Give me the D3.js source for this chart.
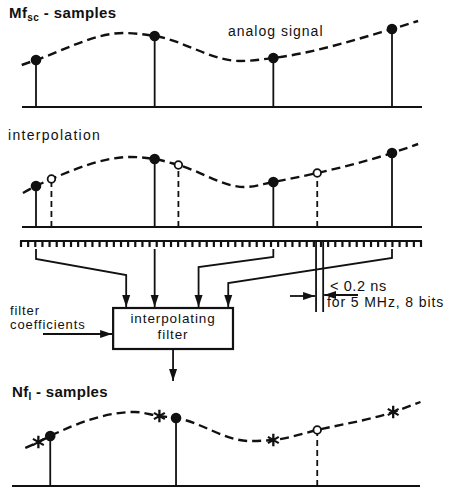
<!DOCTYPE html>
<html>
<head>
<meta charset="utf-8">
<script src="https://cdn.jsdelivr.net/npm/d3@7"></script>
<style>
    body { margin: 0; background: #fff; }
    text { font-family: "Liberation Sans", Arial, sans-serif; fill: #111; }
</style>
</head>
<body>
<svg id="chart" width="455" height="490"></svg>
<script>
// time is measured in Mf_sc sample periods, amplitude in units of 100 px

// Mf_sc samples (top panel)
var mfTimes = [0, 1, 2, 3],
    mfValues = [0.47, 0.71, 0.49, 0.78],
    signalTop = [[-0.12, 0.42], [0, 0.47], [0.74, 0.74], [1, 0.71], [1.72, 0.46], [2, 0.49], [3, 0.78], [3.22, 0.86]];

// interpolation panel
var interpSolidTimes = [0, 1, 2, 3],
    interpSolidValues = [0.41, 0.68, 0.45, 0.74],
    interpOpenTimes = [0.13, 1.2, 2.37],
    interpOpenValues = [0.48, 0.62, 0.54],
    signalMid = [[-0.11, 0.34], [0, 0.41], [0.13, 0.48], [0.8, 0.70], [1, 0.68], [1.2, 0.62], [1.76, 0.40], [2, 0.45], [2.37, 0.54], [3, 0.74], [3.22, 0.83]];

// Nf_I samples (bottom panel)
var nfSolidTimes = [0.12, 1.18],
    nfSolidValues = [0.50, 0.68],
    nfOpenTimes = [2.37],
    nfOpenValues = [0.56],
    starTimes = [0.02, 1.04, 2.0, 3.01],
    starValues = [0.44, 0.70, 0.46, 0.74],
    signalBot = [[-0.09, 0.38], [0.02, 0.44], [0.12, 0.50], [0.83, 0.74], [1.04, 0.70], [1.18, 0.68], [1.8, 0.45], [2.0, 0.46], [2.37, 0.56], [3.01, 0.74], [3.24, 0.84]];

// filter taps: sources on the clock comb, targets on the filter box
var tapSources = [0, 1, 2, 3],
    tapTargets = [0.76, 1, 1.37, 1.62],
    tapBendY = [259, 253, 257, 258],
    tapKneeY = [275, 253, 267, 283];

var combCount = 57;

var svg = d3.select('#chart');

var x = d3.scaleLinear().domain([0, 3]).range([36, 392]);

var defs = svg.append('defs');
defs.append('marker')
    .attr('id', 'arrow')
    .attr('viewBox', '0 -5 12 10')
    .attr('refX', 12).attr('refY', 0)
    .attr('markerWidth', 12).attr('markerHeight', 10)
    .attr('markerUnits', 'userSpaceOnUse')
    .attr('orient', 'auto')
    .append('path').attr('d', 'M0,-4L12,0L0,4Z').attr('fill', '#111');

var drawPanel = function drawPanel(cfg) {
    var y = d3.scaleLinear().domain([0, 1]).range([cfg.base, cfg.base - 100]);
    var g = svg.append('g');

    g.append('line')
        .attr('x1', cfg.x0).attr('x2', cfg.x1)
        .attr('y1', cfg.base).attr('y2', cfg.base)
        .attr('stroke', '#111').attr('stroke-width', 2.2);

    var line = d3.line()
        .x(function (d) { return x(d[0]); })
        .y(function (d) { return y(d[1]); })
        .curve(d3.curveMonotoneX);

    g.append('path')
        .attr('d', line(cfg.signal))
        .attr('fill', 'none')
        .attr('stroke', '#111')
        .attr('stroke-width', 2.4)
        .attr('stroke-dasharray', '9,5');

    var stems = function (times, values, dashed, open) {
        var data = d3.zip(times, values);
        g.selectAll(null).data(data).enter().append('line')
            .attr('x1', function (d) { return x(d[0]); })
            .attr('x2', function (d) { return x(d[0]); })
            .attr('y1', cfg.base)
            .attr('y2', function (d) { return y(d[1]); })
            .attr('stroke', '#111').attr('stroke-width', 1.8)
            .attr('stroke-dasharray', dashed ? '6,4' : null);
        g.selectAll(null).data(data).enter().append('circle')
            .attr('cx', function (d) { return x(d[0]); })
            .attr('cy', function (d) { return y(d[1]); })
            .attr('r', open ? 3.8 : 4.4)
            .attr('fill', open ? '#fff' : '#111')
            .attr('stroke', '#111').attr('stroke-width', 1.8);
    };

    if (cfg.solid) stems(cfg.solid[0], cfg.solid[1], false, false);
    if (cfg.open) stems(cfg.open[0], cfg.open[1], true, true);

    if (cfg.stars) {
        g.selectAll(null).data(d3.zip(cfg.stars[0], cfg.stars[1])).enter().append('path')
            .attr('transform', function (d) { return 'translate(' + x(d[0]) + ',' + y(d[1]) + ')'; })
            .attr('d', d3.symbol().type(d3.symbolAsterisk).size(110))
            .attr('fill', 'none').attr('stroke', '#111').attr('stroke-width', 2.3);
    }
    return g;
};

drawPanel({base: 107, x0: 22, x1: 422, signal: signalTop, solid: [mfTimes, mfValues]});
drawPanel({base: 227, x0: 22, x1: 422, signal: signalMid,
    solid: [interpSolidTimes, interpSolidValues], open: [interpOpenTimes, interpOpenValues]});
drawPanel({base: 486, x0: 12, x1: 420, signal: signalBot,
    solid: [nfSolidTimes, nfSolidValues], open: [nfOpenTimes, nfOpenValues], stars: [starTimes, starValues]});

// titles
var title = svg.append('text').attr('x', 9).attr('y', 18)
    .attr('font-size', 15).attr('font-weight', 'bold').attr('letter-spacing', 0.4);
title.append('tspan').text('Mf');
title.append('tspan').attr('font-size', 10).attr('dy', 3).text('sc');
title.append('tspan').attr('dy', -3).text(' - samples');

svg.append('text').attr('x', 228).attr('y', 36)
    .attr('font-size', 14).attr('letter-spacing', 1).text('analog signal');

svg.append('text').attr('x', 8).attr('y', 140)
    .attr('font-size', 14).attr('letter-spacing', 1.3).text('interpolation');

var title3 = svg.append('text').attr('x', 12).attr('y', 397)
    .attr('font-size', 15).attr('font-weight', 'bold').attr('letter-spacing', 0.3);
title3.append('tspan').text('Nf');
title3.append('tspan').attr('font-size', 10).attr('dy', 3).text('I');
title3.append('tspan').attr('dy', -3).text(' - samples');

// clock comb
var combX = d3.scaleLinear().domain([0, combCount - 1]).range([21, 421]);
svg.append('line').attr('x1', 20).attr('x2', 422).attr('y1', 241).attr('y2', 241)
    .attr('stroke', '#111').attr('stroke-width', 2.2);
svg.selectAll(null).data(d3.range(combCount)).enter().append('line')
    .attr('x1', combX).attr('x2', combX)
    .attr('y1', 241).attr('y2', 247)
    .attr('stroke', '#111').attr('stroke-width', 2.2);

// taps into the filter
var filterBox = {x0: x(0.65), x1: x(1.66), y0: 308, y1: 349};
svg.selectAll(null).data(d3.range(tapSources.length)).enter().append('path')
    .attr('d', function (i) {
        return d3.line()([
            [x(tapSources[i]), 249],
            [x(tapSources[i]), tapBendY[i]],
            [x(tapTargets[i]), tapKneeY[i]],
            [x(tapTargets[i]), filterBox.y0 - 1]
        ]);
    })
    .attr('fill', 'none').attr('stroke', '#111').attr('stroke-width', 1.8)
    .attr('marker-end', 'url(#arrow)');

// filter box
svg.append('rect')
    .attr('x', filterBox.x0).attr('y', filterBox.y0)
    .attr('width', filterBox.x1 - filterBox.x0).attr('height', filterBox.y1 - filterBox.y0)
    .attr('fill', '#fff').attr('stroke', '#111').attr('stroke-width', 2.2);
var boxCx = (filterBox.x0 + filterBox.x1) / 2;
svg.append('text').attr('x', boxCx).attr('y', 323).attr('text-anchor', 'middle')
    .attr('font-size', 13.5).attr('letter-spacing', 0.9).text('interpolating');
svg.append('text').attr('x', boxCx).attr('y', 339).attr('text-anchor', 'middle')
    .attr('font-size', 13.5).attr('letter-spacing', 0.9).text('filter');

svg.append('text').attr('x', 10).attr('y', 315)
    .attr('font-size', 13).attr('letter-spacing', 0.9).text('filter');
svg.append('text').attr('x', 10).attr('y', 329)
    .attr('font-size', 13).attr('letter-spacing', 0.9).text('coefficients');
svg.append('line').attr('x1', 43).attr('x2', filterBox.x0 - 1).attr('y1', 334).attr('y2', 334)
    .attr('stroke', '#111').attr('stroke-width', 1.8).attr('marker-end', 'url(#arrow)');

// output arrow
svg.append('line').attr('x1', boxCx).attr('x2', boxCx)
    .attr('y1', filterBox.y1).attr('y2', 381)
    .attr('stroke', '#111').attr('stroke-width', 1.8).attr('marker-end', 'url(#arrow)');

// jitter window
var jitterTimes = [2.36, 2.42];
svg.selectAll(null).data(jitterTimes).enter().append('line')
    .attr('x1', x).attr('x2', x).attr('y1', 241).attr('y2', 312)
    .attr('stroke', '#111').attr('stroke-width', 1.8);
svg.append('line').attr('x1', 290).attr('x2', x(jitterTimes[0]) - 1).attr('y1', 296).attr('y2', 296)
    .attr('stroke', '#111').attr('stroke-width', 1.8).attr('marker-end', 'url(#arrow)');
svg.append('line').attr('x1', 358).attr('x2', x(jitterTimes[1]) + 1).attr('y1', 295).attr('y2', 295)
    .attr('stroke', '#111').attr('stroke-width', 1.8).attr('marker-end', 'url(#arrow)');
svg.append('text').attr('x', 330).attr('y', 291)
    .attr('font-size', 14.5).attr('letter-spacing', 0.6).text('< 0.2 ns');
svg.append('text').attr('x', 327).attr('y', 307)
    .attr('font-size', 14).attr('letter-spacing', 0.9).text('for 5 MHz, 8 bits');
</script>
</body>
</html>
